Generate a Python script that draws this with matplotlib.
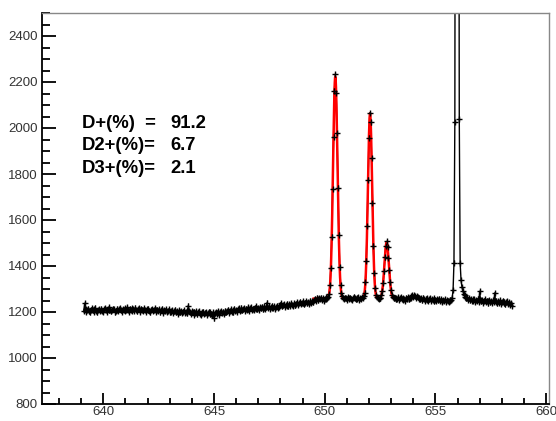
import matplotlib
matplotlib.use("Agg")
import matplotlib.pyplot as plt
import numpy as np
from matplotlib.ticker import MultipleLocator

# spectrum: counts per 0.04 nm bin starting at 639.12 nm
X0 = 639.12
STEP = 0.04
COUNT_ERROR = 10  # half-length of the vertical error bars, counts

counts_639_645 = [
    1205, 1238, 1212, 1200, 1209, 1214, 1203, 1198, 1210, 1216, 1207, 1201, 1211, 1219, 1206, 1199, 1208, 1213, 1204, 1210,
    1215, 1206, 1200, 1211, 1218, 1209, 1202, 1212, 1207, 1222, 1210, 1203, 1208, 1215, 1211, 1199, 1206, 1214, 1209, 1204,
    1212, 1218, 1207, 1201, 1213, 1209, 1216, 1204, 1210, 1221, 1208, 1202, 1214, 1210, 1205, 1217, 1211, 1206, 1219, 1209,
    1203, 1212, 1216, 1208, 1201, 1214, 1210, 1205, 1218, 1209, 1200, 1211, 1207, 1215, 1206, 1198, 1210, 1213, 1204, 1209,
    1216, 1207, 1201, 1210, 1205, 1212, 1199, 1208, 1214, 1203, 1197, 1209, 1206, 1211, 1200, 1204, 1212, 1198, 1205, 1202,
    1208, 1196, 1203, 1210, 1199, 1205, 1192, 1201, 1207, 1198, 1204, 1195, 1202, 1209, 1197, 1200, 1206, 1194, 1228, 1203,
    1198, 1192, 1204, 1199, 1188, 1201, 1196, 1205, 1190, 1198, 1203, 1193, 1187, 1199, 1195, 1202, 1191, 1197, 1200, 1189,
    1196, 1202, 1190, 1198, 1193, 1186, 1199, 1172, 1194, 1200, 1191, 1197, 1203, 1189, 1198, 1204, 1195, 1201, 1192, 1199,
]
counts_645_650 = [
    1206, 1198, 1203, 1210, 1197, 1205, 1212, 1201, 1199, 1208, 1214, 1204, 1209, 1202, 1211, 1216, 1205, 1210, 1219, 1207,
    1212, 1218, 1206, 1214, 1209, 1220, 1211, 1205, 1216, 1222, 1210, 1215, 1208, 1219, 1213, 1224, 1212, 1217, 1209, 1221,
    1216, 1223, 1211, 1219, 1226, 1214, 1220, 1241, 1218, 1225, 1213, 1222, 1217, 1228, 1219, 1224, 1215, 1221, 1227, 1218,
    1226, 1221, 1232, 1238, 1224, 1229, 1235, 1222, 1231, 1227, 1236, 1225, 1233, 1228, 1239, 1230, 1226, 1237, 1232, 1229,
    1236, 1242, 1231, 1239, 1245, 1234, 1240, 1237, 1246, 1233, 1241, 1248, 1238, 1244, 1235, 1243, 1250, 1239, 1246, 1242,
    1252, 1258, 1249, 1262, 1255, 1251, 1260, 1256, 1263, 1254, 1259, 1250, 1257, 1264, 1256, 1261, 1266, 1279, 1316, 1392,
]
counts_peaks = [
    1527, 1735, 1962, 2163, 2233, 2152, 1978, 1741, 1536, 1394, 1318, 1283, 1268, 1262, 1257, 1263, 1259, 1254, 1266, 1260,
    1256, 1263, 1258, 1252, 1261, 1267, 1259, 1255, 1262, 1257, 1264, 1253, 1260, 1258, 1266, 1262, 1270, 1284, 1330, 1423,
    1574, 1775, 1958, 2066, 2024, 1870, 1674, 1488, 1369, 1303, 1274, 1265, 1260, 1256, 1262, 1259, 1273, 1290, 1328, 1377,
    1438, 1487, 1507, 1483, 1435, 1381, 1329, 1294, 1274, 1266, 1259, 1263, 1255, 1261, 1257, 1264, 1252, 1260, 1266, 1258,
]
counts_653_658 = [
    1254, 1261, 1257, 1250, 1263, 1258, 1266, 1255, 1260, 1268, 1262, 1272, 1265, 1274, 1268, 1261, 1270, 1264, 1257, 1262,
    1255, 1259, 1251, 1262, 1256, 1249, 1258, 1253, 1260, 1247, 1255, 1261, 1250, 1257, 1252, 1246, 1259, 1254, 1249, 1256,
    1251, 1258, 1247, 1255, 1250, 1244, 1253, 1248, 1256, 1245, 1252, 1249, 1243, 1254, 1247, 1252, 1262, 1295, 1414, 2026,
    5200, 9800, 9600, 5000, 2040, 1412, 1338, 1309, 1293, 1280, 1272, 1266, 1259, 1263, 1254, 1260, 1251, 1257, 1248, 1255,
    1249, 1256, 1244, 1252, 1247, 1258, 1243, 1290, 1251, 1246, 1253, 1241, 1249, 1255, 1244, 1250, 1238, 1247, 1253, 1242,
    1248, 1240, 1252, 1245, 1283, 1243, 1250, 1237, 1246, 1241, 1252, 1236, 1244, 1249, 1238, 1245, 1233, 1242, 1247, 1236,
    1243, 1231, 1240, 1228,
]

# three-gaussian fit on flat background
fit_centers = [650.48, 652.05, 652.80]
fit_heights = [965, 805, 245]
fit_sigmas = [0.10, 0.095, 0.10]
fit_background = 1258
fit_range = (649.5, 653.5)

fractions = [("D+(%)  =", "91.2"), ("D2+(%)=", "6.7"), ("D3+(%)=", "2.1")]

counts = np.array(counts_639_645 + counts_645_650 + counts_peaks + counts_653_658, dtype=float)
wl = X0 + STEP * np.arange(len(counts))

xf = np.linspace(fit_range[0], fit_range[1], 800)
yf = np.full_like(xf, fit_background, dtype=float)
for c, h, s in zip(fit_centers, fit_heights, fit_sigmas):
    yf += h * np.exp(-0.5 * ((xf - c) / s) ** 2)

plt.rcParams["font.family"] = ["Liberation Sans", "DejaVu Sans"]

fig = plt.figure(figsize=(5.56, 4.21), dpi=100)
ax = fig.add_axes([41.7 / 556, 17 / 421, (548.5 - 41.7) / 556, (404 - 13) / 421])

ax.plot(wl, counts, color="black", linewidth=1.0, zorder=2)
ax.plot(xf, yf, color="#ff0000", linewidth=1.8, zorder=3)
ax.errorbar(wl, counts, yerr=COUNT_ERROR, fmt="none", ecolor="black",
            elinewidth=0.8, capsize=0, zorder=4)
ax.plot(wl, counts, linestyle="none", marker="+", markersize=5,
        markeredgewidth=1.0, color="black", zorder=4)

ax.set_xlim(637.22, 660.11)
ax.set_ylim(800, 2500)

ax.xaxis.set_major_locator(MultipleLocator(5))
ax.xaxis.set_minor_locator(MultipleLocator(1))
ax.yaxis.set_major_locator(MultipleLocator(200))
ax.yaxis.set_minor_locator(MultipleLocator(50))
ax.tick_params(axis="both", which="both", direction="in", width=1.3,
               labelsize=9.5, labelcolor="#333333")
ax.tick_params(axis="x", which="major", length=8, pad=1.5)
ax.tick_params(axis="x", which="minor", length=4)
ax.tick_params(axis="y", which="major", length=10, pad=3)
ax.tick_params(axis="y", which="minor", length=5.5)
ax.tick_params(top=False, right=False)

for side in ("left", "bottom"):
    ax.spines[side].set_linewidth(1.3)
    ax.spines[side].set_color("black")
for side in ("top", "right"):
    ax.spines[side].set_linewidth(1.0)
    ax.spines[side].set_color("#888888")

for i, (lab, val) in enumerate(fractions):
    yb = 2002 - 99 * i
    ax.text(639.02, yb, lab, fontsize=13.3, fontweight="bold", va="baseline", ha="left")
    ax.text(643.01, yb, val, fontsize=13.3, fontweight="bold", va="baseline", ha="left")

fig.savefig("out.png", dpi=100)
